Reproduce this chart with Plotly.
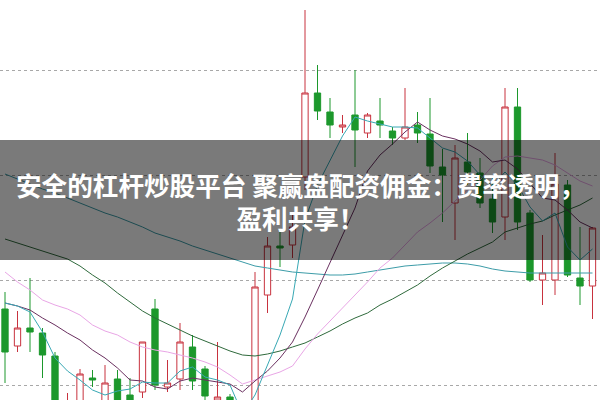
import plotly.graph_objects as go

# Candle index (trading days)
idx = list(range(48))

opens = [10.91, 10.54, 10.72, 10.67, 10.44, 9.60, 9.80, 10.22, 9.80, 10.21,
         10.05, 10.08, 10.91, 10.13, 10.21, 10.53, 10.31, 10.00, 10.03, 9.90,
         9.30, 11.05, 11.54, 11.55, 12.23, 13.07, 12.88, 12.73, 12.85, 12.67,
         12.79, 12.69, 12.62, 12.75, 12.66, 12.33, 11.97, 12.38, 12.27, 12.01,
         11.83, 12.93, 11.87, 11.20, 11.20, 12.15, 11.22, 11.14]
closes = [10.48, 10.72, 10.68, 10.45, 9.75, 9.85, 10.26, 10.20, 10.17, 9.95,
          9.98, 10.58, 10.15, 10.17, 10.58, 10.19, 10.04, 10.03, 9.90, 9.15,
          11.13, 11.54, 11.52, 11.73, 13.07, 12.89, 12.75, 12.75, 12.70, 12.85,
          12.75, 12.62, 12.73, 12.67, 12.34, 12.25, 12.42, 12.28, 11.97, 11.78,
          12.93, 11.78, 11.20, 11.27, 12.16, 11.25, 11.14, 11.72]
highs = [11.08, 10.89, 11.22, 10.72, 10.48, 10.07, 10.31, 10.30, 10.35, 10.30,
         10.22, 10.58, 11.01, 10.40, 10.77, 10.65, 10.34, 10.58, 10.06, 9.97,
         11.28, 11.63, 11.70, 11.85, 13.90, 13.35, 13.02, 12.85, 13.30, 12.87,
         13.02, 12.73, 13.12, 12.88, 13.02, 12.51, 12.55, 12.67, 12.42, 12.23,
         13.12, 13.12, 11.90, 11.65, 12.47, 12.20, 11.73, 11.73]
lows = [10.17, 10.48, 10.48, 10.22, 9.65, 9.50, 9.70, 10.13, 9.70, 9.85,
        9.90, 10.02, 10.10, 10.08, 10.10, 10.10, 9.95, 9.90, 9.80, 9.05,
        9.20, 10.87, 11.33, 11.42, 12.10, 12.80, 12.62, 12.67, 12.33, 12.62,
        12.62, 12.55, 12.60, 12.57, 12.27, 11.78, 11.60, 12.15, 11.92, 11.67,
        11.60, 11.70, 11.18, 10.95, 11.05, 11.23, 10.95, 10.81]

ma5 = [10.97, 10.94, 10.88, 10.68, 10.42, 10.29, 10.20, 10.10, 10.05, 10.09,
       10.11, 10.18, 10.17, 10.17, 10.29, 10.33, 10.23, 10.20, 10.15, 9.86,
       10.05, 10.35, 10.65, 11.01, 11.80, 12.15, 12.39, 12.64, 12.83, 12.79,
       12.76, 12.73, 12.73, 12.72, 12.62, 12.52, 12.48, 12.39, 12.25, 12.14,
       12.28, 12.15, 11.93, 11.79, 11.87, 11.53, 11.40, 11.51]
ma10 = [10.97, 10.94, 10.90, 10.82, 10.75, 10.67, 10.60, 10.50, 10.42, 10.32,
        10.20, 10.19, 10.13, 10.11, 10.19, 10.22, 10.20, 10.18, 10.16, 10.08,
        10.19, 10.29, 10.42, 10.58, 10.83, 11.10, 11.37, 11.64, 11.92, 12.29,
        12.45, 12.56, 12.68, 12.78, 12.70, 12.64, 12.61, 12.56, 12.49, 12.38,
        12.40, 12.31, 12.16, 12.02, 12.00, 11.90, 11.78, 11.72]
ma20 = [11.28, 11.18, 11.10, 11.00, 10.95, 10.91, 10.85, 10.75, 10.69, 10.65,
        10.58, 10.53, 10.50, 10.48, 10.45, 10.42, 10.38, 10.33, 10.25, 10.16,
        10.20, 10.24, 10.28, 10.34, 10.51, 10.66, 10.79, 10.91, 11.04, 11.18,
        11.32, 11.42, 11.55, 11.68, 11.77, 11.87, 11.99, 12.10, 12.20, 12.34,
        12.43, 12.44, 12.42, 12.40, 12.35, 12.27, 12.19, 12.14]
ma30 = [11.61, 11.57, 11.53, 11.49, 11.45, 11.41, 11.34, 11.25, 11.17, 11.07,
        10.98, 10.89, 10.82, 10.76, 10.70, 10.64, 10.59, 10.54, 10.49, 10.45,
        10.44, 10.46, 10.49, 10.53, 10.57, 10.63, 10.69, 10.76, 10.82, 10.87,
        10.95, 11.01, 11.08, 11.15, 11.24, 11.32, 11.39, 11.46, 11.52, 11.58,
        11.68, 11.72, 11.76, 11.79, 11.85, 11.90, 11.95, 12.02]
ma120 = [12.26, 12.21, 12.16, 12.11, 12.07, 12.02, 11.97, 11.92, 11.87, 11.83,
         11.78, 11.73, 11.67, 11.63, 11.59, 11.54, 11.50, 11.46, 11.42, 11.38,
         11.34, 11.32, 11.30, 11.28, 11.27, 11.26, 11.25, 11.25, 11.26, 11.28,
         11.30, 11.32, 11.34, 11.35, 11.36, 11.37, 11.37, 11.36, 11.34, 11.31,
         11.29, 11.28, 11.27, 11.27, 11.27, 11.27, 11.27, 11.27]

banner_text = "安全的杠杆炒股平台 聚赢盘配资佣金：费率透明，<br>盈利共享！"

fig = go.Figure()

fig.add_trace(go.Candlestick(
    x=idx, open=opens, high=highs, low=lows, close=closes,
    increasing=dict(line=dict(color="#c8323e", width=1), fillcolor="#ffffff"),
    decreasing=dict(line=dict(color="#1c982c", width=1), fillcolor="#1c982c"),
    whiskerwidth=0, showlegend=False, hoverinfo="skip",
))

for vals, col in [(ma120, "#3c9ca8"), (ma30, "#2f6a3c"), (ma20, "#e9a6e6"),
                  (ma10, "#6a3060"), (ma5, "#38a8b4")]:
    fig.add_trace(go.Scatter(x=idx, y=vals, mode="lines",
                             line=dict(color=col, width=1),
                             showlegend=False, hoverinfo="skip"))

fig.add_shape(type="rect", xref="paper", yref="paper", x0=0, x1=1,
              y0=0.35, y1=0.65, fillcolor="rgba(0,0,0,0.52)",
              line=dict(width=0), layer="above")

fig.add_annotation(xref="paper", yref="paper", x=0.5, y=0.4975,
                   text="<b>" + banner_text + "</b>", showarrow=False,
                   xanchor="center", yanchor="middle", align="center",
                   font=dict(family="Noto Sans CJK SC", size=25.6, color="#ffffff"))

fig.update_layout(
    width=600, height=400,
    margin=dict(l=0, r=0, t=0, b=0),
    paper_bgcolor="#ffffff", plot_bgcolor="#ffffff",
    boxgap=0.28,
    hovermode=False,
    xaxis=dict(range=[-0.4, 47.6], visible=False, rangeslider=dict(visible=False),
               showgrid=False, zeroline=False),
    yaxis=dict(range=[10, 14], showticklabels=False, ticks="",
               tickmode="linear", tick0=10.15, dtick=1.05,
               showgrid=True, gridcolor="#a8a8a8", griddash="dot", gridwidth=1,
               zeroline=False, showline=False),
)

fig.write_html("out.html", config={"displayModeBar": False},
               post_script="document.body.style.margin='0';document.body.style.padding='0';")
